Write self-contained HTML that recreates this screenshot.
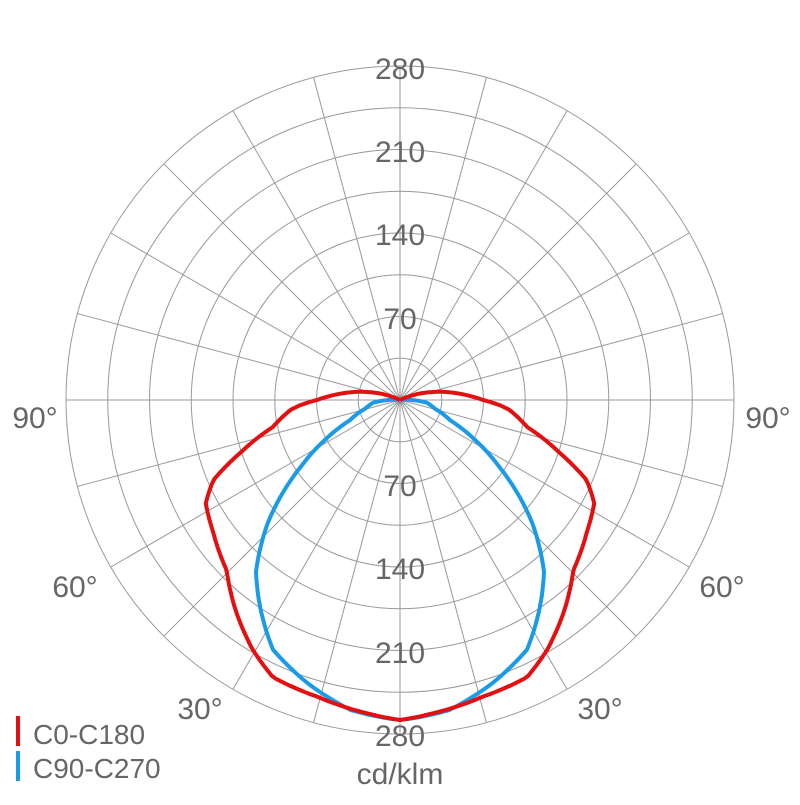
<!DOCTYPE html>
<html><head><meta charset="utf-8"><style>
html,body{margin:0;padding:0;background:#fff;}
svg text{font-family:"Liberation Sans",Arial,sans-serif;fill:#666;}
</style></head><body>
<svg id="s" width="800" height="800" viewBox="0 0 800 800" xmlns="http://www.w3.org/2000/svg">
<g id="grid" stroke="#999" stroke-width="1" fill="none"></g>
<g font-size="30" text-anchor="middle">
<text x="400" y="79">280</text>
<text x="400" y="162">210</text>
<text x="400" y="245">140</text>
<text x="400" y="329">70</text>
<text x="400" y="496">70</text>
<text x="400" y="579">140</text>
<text x="400" y="663">210</text>
<text x="400" y="746">280</text>
<text x="35" y="428">90°</text>
<text x="768" y="428">90°</text>
<text x="75" y="597">60°</text>
<text x="722" y="597">60°</text>
<text x="200" y="719">30°</text>
<text x="600" y="719">30°</text>
<text x="400" y="784">cd/klm</text>
</g>
<g font-size="28">
<rect x="16" y="716" width="4" height="30" fill="#e41010"/>
<text x="33" y="744">C0-C180</text>
<rect x="16" y="751" width="4" height="30" fill="#1a9be8"/>
<text x="33" y="778">C90-C270</text>
</g>
<path id="blue" fill="none" stroke="#1a9be8" stroke-width="4"/>
<path id="red" fill="none" stroke="#e41010" stroke-width="4"/>
</svg>
<script>
var cx=400,cy=400,R=334;
var g=document.getElementById('grid'),h='';
for(var i=1;i<=8;i++)h+='<circle cx="400" cy="400" r="'+(R*i/8)+'"/>';
for(var a=0;a<180;a+=15){var t=a*Math.PI/180;h+='<line x1="'+(cx-R*Math.cos(t))+'" y1="'+(cy-R*Math.sin(t))+'" x2="'+(cx+R*Math.cos(t))+'" y2="'+(cy+R*Math.sin(t))+'"/>';}
g.innerHTML=h;
function interp(pts,a){for(var i=0;i<pts.length-1;i++){if(a>=pts[i][0]&&a<=pts[i+1][0]){var f=(a-pts[i][0])/(pts[i+1][0]-pts[i][0]);return pts[i][1]+f*(pts[i+1][1]-pts[i][1]);}}return 0;}
function build(pts,max){var s=[],d='';
for(var a=-max;a<=max;a+=1){var r=interp(pts,Math.abs(a));var t=a*Math.PI/180;s.push([cx+r*Math.sin(t),cy+r*Math.cos(t)]);}
for(var i=0;i<s.length;i++)d+=(i?'L':'M')+s[i][0].toFixed(1)+' '+s[i][1].toFixed(1);
return d;}
var red=[[0,320],[6,315],[15.6,308],[24.6,305],[30.5,290],[38.6,265],[45.5,243],[54.6,229],[62,220],[66.8,203],[71.7,168],[78,130],[84.8,110],[87,100],[90,83],[96,60],[103.6,34],[110,15],[116,0]];
var blue=[[0,320],[9,314],[18,298],[27,280],[34,250],[40,224],[47,181],[56,120],[62,85],[68,54],[76,36],[84,27],[90,12],[96,0]];
document.getElementById('red').setAttribute('d',build(red,116));
document.getElementById('blue').setAttribute('d',build(blue,96));
</script>
</body></html>
